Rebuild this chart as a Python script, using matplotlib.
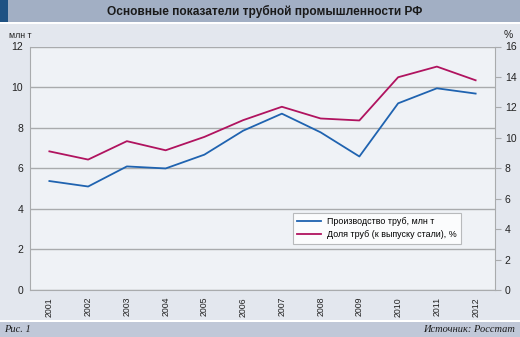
import matplotlib
matplotlib.use("Agg")
import matplotlib.pyplot as plt
from matplotlib.patches import Rectangle

years = ["2001", "2002", "2003", "2004", "2005", "2006", "2007", "2008", "2009", "2010", "2011", "2012"]
production = [5.37, 5.10, 6.09, 5.99, 6.67, 7.85, 8.69, 7.77, 6.58, 9.20, 9.94, 9.68]
share = [9.11, 8.57, 9.78, 9.18, 10.06, 11.16, 12.04, 11.27, 11.14, 13.98, 14.68, 13.78]
left_ticks = [0, 2, 4, 6, 8, 10, 12]
right_ticks = [0, 2, 4, 6, 8, 10, 12, 14, 16]

title = "Основные показатели трубной промышленности РФ"
label_prod = "Производство труб, млн т"
label_share = "Доля труб (к выпуску стали), %"

W, H = 520, 337
fig = plt.figure(figsize=(W / 100, H / 100), dpi=100)
fig.patch.set_facecolor("#e3e7ee")

def fx(x):
    return x / W

def fy(y):
    return 1 - y / H

# title bar
fig.patches.append(Rectangle((0, fy(22)), 1, 22 / H, transform=fig.transFigure,
                             facecolor="#a2afc4", edgecolor="none", zorder=0))
fig.patches.append(Rectangle((0, fy(22)), 8 / W, 22 / H, transform=fig.transFigure,
                             facecolor="#1f5283", edgecolor="none", zorder=0))
fig.patches.append(Rectangle((0, fy(24)), 1, 2 / H, transform=fig.transFigure,
                             facecolor="white", edgecolor="none", zorder=0))
# footer bar
fig.patches.append(Rectangle((0, 0), 1, 15 / H, transform=fig.transFigure,
                             facecolor="#c0c8d8", edgecolor="none", zorder=0))
fig.patches.append(Rectangle((0, 15 / H), 1, 2 / H, transform=fig.transFigure,
                             facecolor="white", edgecolor="none", zorder=0))

fig.text(fx(265), fy(11), title, ha="center", va="center", fontsize=8.6,
         color="#1a1a1a", family="Liberation Sans", weight="bold")
fig.text(fx(4), fy(329), "Рис. 1", ha="left", va="center", fontsize=7.5,
         family="Liberation Serif", style="italic", color="#1a1a1a")
fig.text(fx(515), fy(329), "Источник: Росстат", ha="right", va="center", fontsize=7.5,
         family="Liberation Serif", style="italic", color="#1a1a1a")
fig.text(fx(9), fy(35), "млн т", ha="left", va="center", fontsize=6.3,
         family="Liberation Sans", color="#222222")
fig.text(fx(504), fy(35), "%", ha="left", va="center", fontsize=7.5,
         family="Liberation Sans", color="#222222")

left, right, top, bottom = 30, 495, 46.5, 290
ax = fig.add_axes([fx(left), fy(bottom), (right - left) / W, (bottom - top) / H])
ax.set_zorder(2)
ax.set_facecolor("#eff2f6")
x = list(range(len(years)))
l1, = ax.plot(x, production, color="#1f63b0", lw=1.3, zorder=3)
ax.set_xlim(-0.5, len(years) - 0.5)
ax.set_ylim(0, 12)
ax.set_yticks(left_ticks)
ax.set_yticklabels([str(t) for t in left_ticks])
ax.grid(axis="y", color="#a9abad", lw=1)
ax.set_axisbelow(True)
ax.set_xticks(x)
ax.set_xticklabels(years, rotation=90)
ax.tick_params(axis="x", length=0, pad=5, labelsize=6.3, labelcolor="#222222")
ax.tick_params(axis="y", length=0, pad=5, labelsize=7.5, labelcolor="#222222")
for s in ["top", "right"]:
    ax.spines[s].set_visible(False)
ax.spines["left"].set_color("#a9abad")
ax.spines["bottom"].set_color("#a9abad")

ax2 = ax.twinx()
ax2.set_zorder(3)
l2, = ax2.plot(x, share, color="#b0135f", lw=1.3, zorder=3)
ax2.set_ylim(0, 16)
ax2.set_yticks(right_ticks)
ax2.set_yticklabels([str(t) for t in right_ticks])
ax2.tick_params(axis="y", length=4, width=0.8, color="#a9abad", pad=3,
                labelsize=7.5, labelcolor="#222222")
for s in ["top", "left", "bottom"]:
    ax2.spines[s].set_visible(False)
ax2.spines["right"].set_color("#a9abad")

for lab in ax.get_xticklabels() + ax.get_yticklabels() + ax2.get_yticklabels():
    lab.set_family("Liberation Sans")

leg = ax2.legend([l1, l2], [label_prod, label_share], loc="upper left",
                 bbox_to_anchor=((293 - left) / (right - left), (bottom - 213) / (bottom - top)),
                 frameon=True, fancybox=False, handlelength=2.6,
                 handletextpad=0.75, borderpad=0.5, labelspacing=0.45, borderaxespad=0,
                 prop={"family": "Liberation Sans", "size": 6.4})
leg.get_frame().set_edgecolor("#a9abad")
leg.get_frame().set_facecolor("white")
leg.get_frame().set_linewidth(0.8)

fig.savefig("out.png", dpi=100, facecolor=fig.get_facecolor())
